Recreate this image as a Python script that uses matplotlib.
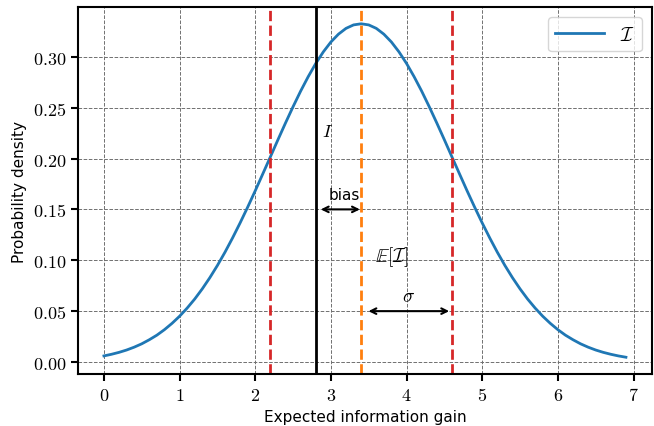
import matplotlib
matplotlib.use("Agg")
import matplotlib.pyplot as plt
from matplotlib.ticker import FuncFormatter

plt.rcParams['mathtext.fontset'] = 'cm'
plt.rcParams['font.family'] = ['DejaVu Sans']

# density curve
gain = [0.0, 0.1, 0.2, 0.3, 0.4, 0.5, 0.6, 0.7, 0.8, 0.9,
        1.0, 1.1, 1.2, 1.3, 1.4, 1.5, 1.6, 1.7, 1.8, 1.9,
        2.0, 2.1, 2.2, 2.3, 2.4, 2.5, 2.6, 2.7, 2.8, 2.9,
        3.0, 3.1, 3.2, 3.3, 3.4, 3.5, 3.6, 3.7, 3.8, 3.9,
        4.0, 4.1, 4.2, 4.3, 4.4, 4.5, 4.6, 4.7, 4.8, 4.9,
        5.0, 5.1, 5.2, 5.3, 5.4, 5.5, 5.6, 5.7, 5.8, 5.9,
        6.0, 6.1, 6.2, 6.3, 6.4, 6.5, 6.6, 6.7, 6.8, 6.9]
density = [0.0060, 0.0076, 0.0095, 0.0118, 0.0146, 0.0179, 0.0219, 0.0264, 0.0318, 0.0380,
           0.0450, 0.0530, 0.0619, 0.0719, 0.0829, 0.0949, 0.1079, 0.1219, 0.1367, 0.1522,
           0.1683, 0.1849, 0.2016, 0.2184, 0.2349, 0.2509, 0.2662, 0.2804, 0.2934, 0.3048,
           0.3145, 0.3222, 0.3279, 0.3313, 0.3324, 0.3313, 0.3279, 0.3222, 0.3145, 0.3048,
           0.2934, 0.2804, 0.2662, 0.2509, 0.2349, 0.2184, 0.2016, 0.1849, 0.1683, 0.1522,
           0.1367, 0.1219, 0.1079, 0.0949, 0.0829, 0.0719, 0.0619, 0.0530, 0.0450, 0.0380,
           0.0318, 0.0264, 0.0219, 0.0179, 0.0146, 0.0118, 0.0095, 0.0076, 0.0060, 0.0047]

true_value = 2.8
mean_value = 3.4
sigma_bounds = [2.2, 4.6]

fig = plt.figure(figsize=(6.54, 4.27), dpi=100)
ax = fig.add_axes([0.119, 0.122, 0.878, 0.859])

ax.plot(gain, density, color='tab:blue', lw=2, label=r'$\mathcal{I}$')
ax.axvline(true_value, color='black', lw=2)
ax.axvline(mean_value, color='tab:orange', lw=2, ls='--')
for b in sigma_bounds:
    ax.axvline(b, color='tab:red', lw=2, ls='--')

ax.grid(True, ls='--', color='#707070', lw=0.7)

# bias and sigma arrows
ax.annotate('', xy=(true_value + 0.03, 0.15), xytext=(mean_value + 0.02, 0.15),
            arrowprops=dict(arrowstyle='<->', lw=1.5, color='black'))
ax.annotate('', xy=(mean_value + 0.06, 0.05), xytext=(sigma_bounds[1], 0.05),
            arrowprops=dict(arrowstyle='<->', lw=1.5, color='black'))
ax.text(2.95, 0.227, r'$I$', fontsize=13, ha='center', va='center')
ax.text(3.18, 0.165, 'bias', fontsize=11, ha='center', va='center')
ax.text(3.8, 0.104, r'$\mathbb{E}[\mathcal{I}]$', fontsize=14, ha='center', va='center')
ax.text(4.02, 0.065, r'$\sigma$', fontsize=14, ha='center', va='center')

ax.xaxis.set_major_formatter(FuncFormatter(lambda v, p: f'${v:.0f}$'))
ax.yaxis.set_major_formatter(FuncFormatter(lambda v, p: f'${v:.2f}$'))
ax.tick_params(labelsize=13, width=1.5, length=5)
for s in ax.spines.values():
    s.set_linewidth(1.5)

ax.set_xlabel('Expected information gain', fontsize=11)
ax.set_ylabel('Probability density', fontsize=11)
ax.legend(loc='upper right', fontsize=14, handlelength=2.5)

fig.savefig('out.png', dpi=100)
